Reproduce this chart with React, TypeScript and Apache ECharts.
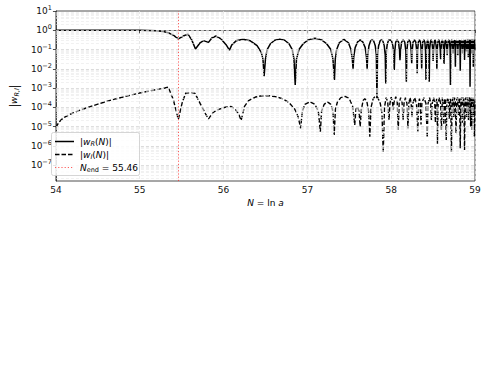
import React, { useEffect, useRef } from "react";
import * as echarts from "echarts";

const FONT = "DejaVu Sans";

// x axis (N = ln a)
const xMin = 54;
const xMax = 59;
const xTickStep = 1;

// y axis in decades (log10 of |w|)
const yMinLog = -7.83;
const yMaxLog = 1;
const yDecades = [-7, -6, -5, -4, -3, -2, -1, 0, 1];

const nEnd = 55.46;

// |w_R(N)| : [N, log10 |w_R|]
const wRLog10: [number, number][] = [
  [54.0, 0], [54.5, 0], [55.0, -0.004], [55.1, -0.01], [55.2, -0.03], [55.28, -0.07], [55.34, -0.13], [55.4, -0.25], [55.46, -0.45],
  [55.52, -0.3], [55.575, -0.2], [55.62, -0.5], [55.665, -0.97], [55.72, -0.65], [55.76, -0.54], [55.82, -0.63], [55.86, -0.4], [55.91, -0.3], [55.97, -0.45], [56.03, -0.75], [56.07, -1.03],
  [56.1, -0.75], [56.15, -0.55], [56.23, -0.47], [56.32, -0.55], [56.4, -0.8], [56.45, -1.15], [56.47, -1.5], [56.484, -2.38],
  [56.5, -1.5], [56.52, -1.0], [56.56, -0.7], [56.61, -0.52], [56.67, -0.46], [56.73, -0.52], [56.78, -0.7], [56.82, -1.0], [56.84, -1.5], [56.855, -2.84],
  [56.87, -1.5], [56.9, -1.0], [56.95, -0.7], [57.01, -0.5], [57.09, -0.42], [57.17, -0.5], [57.23, -0.7], [57.28, -1.0], [57.305, -1.5], [57.323, -2.58],
  [57.333, -1.5], [57.35, -1.0], [57.38, -0.65], [57.436, -0.47], [57.49, -0.65], [57.52, -1.0], [57.536, -1.5], [57.545, -2.0],
  [57.553, -1.4], [57.57, -0.9], [57.6, -0.6], [57.63, -0.5], [57.66, -0.6], [57.69, -0.9], [57.705, -1.4], [57.713, -2.0],
  [57.72, -1.3], [57.735, -0.8], [57.755, -0.55], [57.772, -0.5], [57.79, -0.55], [57.81, -0.8], [57.823, -1.3], [57.83, -3.54],
  [57.837, -1.3], [57.85, -0.8], [57.868, -0.55], [57.883, -0.5], [57.9, -0.55], [57.917, -0.8], [57.929, -1.3], [57.935, -2.76],
  [57.941, -1.2], [57.952, -0.75], [57.968, -0.52], [57.986, -0.5], [58.004, -0.55], [58.02, -0.8], [58.031, -1.2], [58.037, -2.06],
  [58.043, -1.1], [58.054, -0.62], [58.071, -0.5], [58.088, -0.62], [58.099, -1.1], [58.105, -1.55],
  [58.111, -1.1], [58.124, -0.62], [58.143, -0.5], [58.162, -0.62], [58.175, -1.1], [58.181, -2.67],
  [58.187, -1.1], [58.197, -0.62], [58.213, -0.5], [58.229, -0.62], [58.239, -1.1], [58.245, -1.72],
  [58.25, -1.1], [58.261, -0.62], [58.278, -0.5], [58.294, -0.62], [58.305, -1.1], [58.31, -2.24],
  [58.315, -1.1], [58.324, -0.62], [58.337, -0.5], [58.35, -0.62], [58.359, -1.1], [58.364, -1.98],
  [58.369, -1.1], [58.377, -0.62], [58.39, -0.5], [58.402, -0.62], [58.41, -1.1], [58.415, -2.58],
  [58.42, -1.1], [58.428, -0.62], [58.435, -0.5], [58.442, -0.62], [58.45, -1.1], [58.454, -2.67],
  [58.459, -1.0], [58.468, -0.6], [58.477, -0.5], [58.486, -0.6], [58.495, -1.0], [58.5, -1.6],
  [58.505, -1.0], [58.514, -0.6], [58.522, -0.5], [58.531, -0.6], [58.54, -1.0], [58.545, -2.0],
  [58.55, -1.0], [58.558, -0.6], [58.567, -0.5], [58.576, -0.6], [58.585, -1.0], [58.59, -1.5],
  [58.595, -1.0], [58.602, -0.6], [58.61, -0.5], [58.618, -0.6], [58.625, -1.0], [58.63, -1.75],
  [58.635, -1.0], [58.642, -0.6], [58.649, -0.5], [58.656, -0.6], [58.663, -1.0], [58.668, -1.3],
  [58.673, -0.9], [58.68, -0.55], [58.688, -0.5], [58.696, -0.6], [58.703, -1.0], [58.707, -2.84],
  [58.712, -0.9], [58.718, -0.55], [58.723, -0.5], [58.729, -0.6], [58.735, -0.9], [58.738, -1.2],
  [58.743, -0.8], [58.748, -0.52], [58.753, -0.5], [58.758, -0.55], [58.763, -0.9], [58.766, -1.9],
  [58.77, -0.8], [58.776, -0.52], [58.781, -0.5], [58.786, -0.55], [58.792, -0.9], [58.795, -1.3],
  [58.799, -0.8], [58.805, -0.52], [58.81, -0.5], [58.815, -0.55], [58.821, -0.9], [58.824, -2.1],
  [58.828, -0.8], [58.833, -0.52], [58.838, -0.5], [58.843, -0.55], [58.847, -0.9], [58.85, -1.2],
  [58.854, -0.8], [58.859, -0.52], [58.863, -0.5], [58.867, -0.55], [58.872, -0.9], [58.875, -1.55],
  [58.879, -0.75], [58.884, -0.5], [58.89, -0.52], [58.895, -0.8], [58.9, -1.1],
  [58.904, -0.7], [58.909, -0.5], [58.914, -0.55], [58.918, -0.85], [58.92, -1.4],
  [58.924, -0.75], [58.929, -0.5], [58.934, -0.55], [58.938, -0.85], [58.941, -2.93],
  [58.945, -0.75], [58.95, -0.5], [58.955, -0.55], [58.958, -0.85], [58.96, -1.2],
  [58.964, -0.75], [58.968, -0.5], [58.973, -0.55], [58.977, -0.85], [58.98, -1.9],
  [58.984, -0.75], [58.988, -0.5], [58.993, -0.55], [58.997, -0.85], [59.0, -1.0],
];

// |w_I(N)| : [N, log10 |w_I|]
const wILog10: [number, number][] = [
  [54.0, -5.04], [54.03, -4.82], [54.06, -4.66], [54.1, -4.52], [54.2, -4.3], [54.3, -4.13], [54.4, -3.98], [54.5, -3.84], [54.6, -3.7], [54.7, -3.58], [54.8, -3.47], [54.9, -3.36], [55.0, -3.26], [55.1, -3.17], [55.2, -3.08], [55.3, -3.0], [55.34, -2.95],
  [55.4, -3.6], [55.46, -4.63],
  [55.51, -3.7], [55.55, -3.26], [55.62, -3.24], [55.66, -3.28], [55.72, -3.8], [55.78, -4.3], [55.82, -4.6],
  [55.88, -4.25], [55.95, -4.1], [56.02, -4.0], [56.09, -3.96], [56.14, -4.1], [56.18, -4.35], [56.21, -4.68],
  [56.25, -3.95], [56.3, -3.65], [56.38, -3.47], [56.46, -3.4], [56.54, -3.4], [56.62, -3.45], [56.7, -3.55], [56.78, -3.75], [56.85, -4.1], [56.89, -4.5], [56.92, -5.09],
  [56.94, -4.2], [56.97, -3.85], [57.03, -3.71], [57.09, -3.85], [57.13, -4.2], [57.155, -5.27],
  [57.17, -4.2], [57.2, -3.85], [57.24, -3.72], [57.28, -3.85], [57.305, -4.2], [57.32, -5.44],
  [57.335, -4.1], [57.36, -3.7], [57.4, -3.5], [57.45, -3.44], [57.5, -3.55], [57.54, -3.95], [57.565, -4.92],
  [57.58, -4.1], [57.597, -3.97], [57.615, -4.2], [57.63, -5.0],
  [57.645, -4.1], [57.665, -3.65], [57.685, -3.55], [57.71, -3.7], [57.73, -4.2], [57.745, -5.53],
  [57.76, -4.0], [57.785, -3.55], [57.81, -3.43], [57.84, -3.5], [57.87, -3.8], [57.89, -4.3], [57.905, -6.35],
  [57.92, -4.0], [57.94, -3.5], [57.958, -3.7], [57.974, -4.66],
  [57.985, -3.8], [58.0, -3.48], [58.015, -3.7], [58.025, -4.14],
  [58.035, -3.7], [58.055, -3.45], [58.072, -3.75], [58.084, -5.18],
  [58.095, -3.8], [58.113, -3.5], [58.13, -3.75], [58.142, -4.66],
  [58.153, -3.8], [58.17, -3.5], [58.188, -3.8], [58.2, -5.1],
  [58.21, -3.8], [58.225, -3.5], [58.238, -3.75], [58.248, -4.5],
  [58.258, -3.8], [58.28, -3.5], [58.302, -3.8], [58.318, -5.27],
  [58.327, -3.8], [58.337, -3.55], [58.347, -3.8], [58.356, -4.9],
  [58.366, -3.8], [58.39, -3.5], [58.415, -3.8], [58.43, -5.6],
  [58.44, -3.8], [58.458, -3.5], [58.472, -3.8], [58.48, -4.66],
  [58.49, -3.8], [58.505, -3.5], [58.52, -3.8], [58.528, -4.8],
  [58.535, -3.8], [58.543, -3.55], [58.548, -3.8], [58.552, -5.9],
  [58.56, -3.8], [58.575, -3.5], [58.59, -3.8], [58.6, -5.18],
  [58.61, -3.5], [58.62, -3.9], [58.628, -4.9],
  [58.636, -3.6], [58.646, -3.55], [58.657, -5.7],
  [58.665, -3.7], [58.675, -3.5], [58.685, -3.8], [58.692, -4.6],
  [58.7, -3.6], [58.71, -3.6], [58.719, -6.31],
  [58.727, -3.7], [58.737, -3.5], [58.747, -4.5],
  [58.755, -3.5], [58.765, -3.7], [58.774, -5.36],
  [58.782, -3.6], [58.792, -3.5], [58.802, -4.4],
  [58.81, -3.5], [58.817, -3.7], [58.824, -6.13],
  [58.832, -3.6], [58.84, -3.5], [58.85, -4.8],
  [58.857, -3.5], [58.866, -3.6], [58.875, -6.22],
  [58.882, -3.6], [58.89, -3.5], [58.9, -4.5],
  [58.908, -3.5], [58.915, -3.6], [58.922, -4.66],
  [58.93, -3.5], [58.94, -3.6], [58.948, -5.0],
  [58.955, -3.5], [58.961, -5.18],
  [58.968, -3.6], [58.975, -3.5], [58.983, -4.4],
  [58.988, -3.6], [58.992, -5.53],
  [59.0, -3.7],
];

const minorFactors = [2, 3, 4, 5, 6, 7, 8, 9];

const labelRich = {
  b: { fontFamily: FONT, fontSize: 9, lineHeight: 13, color: "#111" },
  s: { fontFamily: FONT, fontSize: 6.5, lineHeight: 6, verticalAlign: "top", color: "#111" },
};

const textRich = {
  n: { fontFamily: FONT, fontSize: 9, lineHeight: 12, color: "#000" },
  i: { fontFamily: FONT, fontSize: 9, fontStyle: "italic", lineHeight: 12, color: "#000" },
  s: { fontFamily: FONT, fontSize: 6.5, lineHeight: 6, verticalAlign: "bottom", color: "#000" },
  si: { fontFamily: FONT, fontSize: 6.5, fontStyle: "italic", lineHeight: 6, verticalAlign: "bottom", color: "#000" },
};

const RED = "rgba(255,40,40,0.75)";

function buildOption() {
  const gridLines: any[] = [];
  for (let d = -8; d <= 1; d++) {
    if (d > yMinLog + 0.01 && d < yMaxLog - 0.01) {
      gridLines.push({ yAxis: d, lineStyle: { color: "#d6d6d6", width: 0.8, type: [3, 2] } });
    }
    for (const k of minorFactors) {
      const v = d + Math.log10(k);
      if (v > yMinLog && v < yMaxLog) {
        gridLines.push({ yAxis: v, lineStyle: { color: "#e8e8e8", width: 0.6, type: [3, 2] } });
      }
    }
  }

  const fmtExp = (v: number) => {
    const r = Math.round(v);
    if (Math.abs(v - r) > 1e-6) return "";
    const e = r < 0 ? "\u2212" + String(-r) : String(r);
    return `{b|10}{s|${e}}`;
  };

  return {
    animation: false,
    backgroundColor: "#ffffff",
    grid: {
      left: 48,
      right: 13,
      top: 11,
      bottom: 210,
      show: true,
      borderColor: "#222",
      borderWidth: 0.8,
      backgroundColor: "transparent",
    },
    xAxis: {
      type: "value",
      min: xMin,
      max: xMax,
      interval: xTickStep,
      name: "{i|N}{n| = ln }{i|a}",
      nameLocation: "middle",
      nameGap: 16,
      nameTextStyle: { rich: textRich },
      axisLine: { show: true, lineStyle: { color: "#222", width: 0.8 } },
      axisTick: { show: true, inside: false, length: 3, lineStyle: { color: "#222", width: 0.8 } },
      axisLabel: { fontFamily: FONT, fontSize: 9, color: "#111", margin: 4 },
      splitLine: { show: true, lineStyle: { color: "#e2e2e2", width: 0.8, type: [3, 2] } },
    },
    yAxis: {
      type: "value",
      min: yMinLog,
      max: yMaxLog,
      name: "|{i|w}{si|R,I}|",
      nameLocation: "middle",
      nameRotate: 90,
      nameGap: 30,
      nameTextStyle: { rich: textRich },
      axisLine: { show: true, lineStyle: { color: "#222", width: 0.8 } },
      axisTick: { show: true, inside: false, length: 3, customValues: yDecades, lineStyle: { color: "#222", width: 0.8 } },
      axisLabel: {
        customValues: yDecades,
        formatter: (v: number) => fmtExp(v),
        rich: labelRich,
        margin: 4,
      },
      splitLine: { show: false },
    },
    series: [
      {
        name: "grid",
        type: "line",
        data: [],
        silent: true,
        z: 1,
        markLine: {
          silent: true,
          symbol: ["none", "none"],
          label: { show: false },
          animation: false,
          data: gridLines,
        },
      },
      {
        name: "wI",
        type: "line",
        data: wILog10,
        showSymbol: false,
        symbol: "none",
        z: 3,
        lineStyle: { color: "#000", width: 1.4, type: [4.5, 2] },
      },
      {
        name: "wR",
        type: "line",
        data: wRLog10,
        showSymbol: false,
        symbol: "none",
        z: 4,
        lineStyle: { color: "#000", width: 1.5 },
        markLine: {
          silent: true,
          symbol: ["none", "none"],
          label: { show: false },
          animation: false,
          lineStyle: { color: RED, width: 1, type: [1.2, 2] },
          data: [{ xAxis: nEnd }],
        },
      },
    ],
    graphic: [
      {
        type: "rect",
        z: 20,
        shape: { x: 51.5, y: 132.5, width: 88, height: 43, r: 2 },
        style: { fill: "rgba(255,255,255,0.85)", stroke: "#cccccc", lineWidth: 0.8 },
      },
      {
        type: "line",
        z: 21,
        shape: { x1: 55, y1: 141.5, x2: 74, y2: 141.5 },
        style: { stroke: "#000", lineWidth: 1.5 },
      },
      {
        type: "line",
        z: 21,
        shape: { x1: 55, y1: 154.5, x2: 74, y2: 154.5 },
        style: { stroke: "#000", lineWidth: 1.4, lineDash: [4.5, 2] },
      },
      {
        type: "line",
        z: 21,
        shape: { x1: 55, y1: 167.5, x2: 74, y2: 167.5 },
        style: { stroke: RED, lineWidth: 1, lineDash: [1.2, 2] },
      },
      {
        type: "text",
        z: 21,
        x: 80,
        y: 141.5,
        style: { text: "{n||}{i|w}{si|R}{n|(}{i|N}{n|)|}", rich: textRich, verticalAlign: "middle", align: "left" },
      },
      {
        type: "text",
        z: 21,
        x: 80,
        y: 154.5,
        style: { text: "{n||}{i|w}{si|I}{n|(}{i|N}{n|)|}", rich: textRich, verticalAlign: "middle", align: "left" },
      },
      {
        type: "text",
        z: 21,
        x: 80,
        y: 167.5,
        style: { text: "{i|N}{s|end}{n| = 55.46}", rich: textRich, verticalAlign: "middle", align: "left" },
      },
    ],
  };
}

export default function App() {
  const ref = useRef<HTMLDivElement>(null);
  useEffect(() => {
    if (!ref.current) return;
    const chart = echarts.init(ref.current, null, { renderer: "svg" });
    chart.setOption(buildOption() as any);
    return () => chart.dispose();
  }, []);
  return (
    <div
      ref={ref}
      style={{ position: "fixed", left: 0, top: 0, width: 488, height: 391, background: "#fff" }}
    />
  );
}
